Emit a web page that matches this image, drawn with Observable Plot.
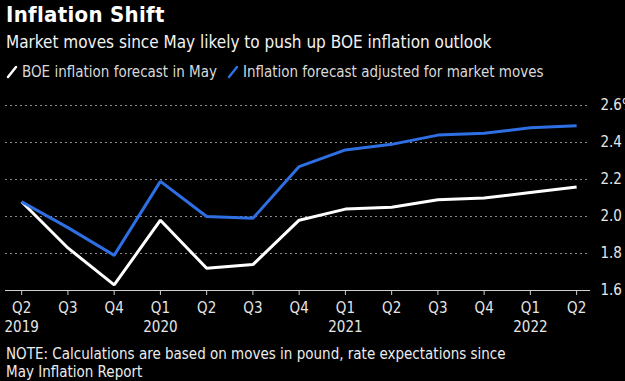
<!DOCTYPE html>
<html>
<head>
<meta charset="utf-8">
<script src="https://cdn.jsdelivr.net/npm/d3@7"></script>
<script src="https://cdn.jsdelivr.net/npm/@observablehq/plot@0.6"></script>
<style>
  html, body { margin: 0; padding: 0; background: #000; }
  body { width: 625px; height: 381px; overflow: hidden; font-family: "DejaVu Sans", sans-serif; font-stretch: condensed; color: #fff; position: relative; }
  #title { position: absolute; left: 6px; top: 2px; font-size: 22px; font-weight: bold; font-stretch: condensed; letter-spacing: 0.3px; }
  #subtitle { position: absolute; left: 6px; top: 32px; font-size: 17px; color: #f2f2f2; }
  #legend { position: absolute; left: 6px; top: 63px; font-size: 15px; color: #d9d9d9; display: flex; align-items: center; }
  #legend span.item { display: inline-flex; align-items: center; margin-right: 10px; }
  #legend svg { margin-right: 4px; }
  #chart { position: absolute; left: 0; top: 90px; }
  #note { position: absolute; left: 6px; top: 345px; font-size: 15px; color: #ececec; line-height: 18px; }
</style>
</head>
<body>
<div id="title">Inflation Shift</div>
<div id="subtitle">Market moves since May likely to push up BOE inflation outlook</div>
<div id="legend"></div>
<div id="chart"></div>
<div id="note">NOTE: Calculations are based on moves in pound, rate expectations since<br>May Inflation Report</div>
<script>
const quarters = ["Q2","Q3","Q4","Q1","Q2","Q3","Q4","Q1","Q2","Q3","Q4","Q1","Q2"];
const years    = ["2019","","","2020","","","","2021","","","","2022",""];
const mayForecast      = [2.08, 1.83, 1.63, 1.98, 1.72, 1.74, 1.98, 2.04, 2.05, 2.09, 2.10, 2.13, 2.16];
const adjustedForecast = [2.08, 1.94, 1.79, 2.19, 2.00, 1.99, 2.27, 2.36, 2.39, 2.44, 2.45, 2.48, 2.49];
const seriesNames  = ["BOE inflation forecast in May", "Inflation forecast adjusted for market moves"];
const seriesColors = ["#ffffff", "#2f6fe4"];
const yTicks = [1.6, 1.8, 2.0, 2.2, 2.4, 2.6];

const rows = [];
quarters.forEach((q, i) => {
  rows.push({i, value: mayForecast[i], series: seriesNames[0]});
  rows.push({i, value: adjustedForecast[i], series: seriesNames[1]});
});

// legend
const legend = document.getElementById("legend");
seriesNames.forEach((name, k) => {
  const item = document.createElement("span");
  item.className = "item";
  item.innerHTML = `<svg width="12" height="14"><line x1="2" y1="12" x2="10" y2="2" stroke="${seriesColors[k]}" stroke-width="2.5" stroke-linecap="round"/></svg>${name}`;
  legend.appendChild(item);
});

const idx = d3.range(quarters.length);
const plot = Plot.plot({
  width: 625,
  height: 250,
  marginTop: 15,
  marginBottom: 50,
  marginLeft: 5,
  marginRight: 35,
  style: { background: "transparent", color: "#e6e6e6", fontFamily: "DejaVu Sans, sans-serif", fontSize: "15px", fontStretch: "condensed", overflow: "visible" },
  x: { type: "linear", domain: [-0.35, 12.3] },
  y: { domain: [1.6, 2.6] },
  color: { domain: seriesNames, range: seriesColors },
  marks: [
    Plot.gridY(yTicks.filter(t => t > 1.6), { stroke: "#8a8a8a", strokeOpacity: 1, strokeDasharray: "2,3" }),
    Plot.ruleY([1.6], { stroke: "#d0d0d0", strokeWidth: 1 }),
    Plot.axisY({ anchor: "right", ticks: yTicks, tickSize: 0, tickPadding: 10, textAnchor: "start",
      tickFormat: d => d === 2.6 ? "2.6%" : d.toFixed(1), fill: "#e6e6e6", fontSize: 15, label: null }),
    Plot.axisX({ ticks: idx, tickSize: 5, tickPadding: 7, tickFormat: i => quarters[i], stroke: "#d0d0d0", fill: "#e6e6e6", fontSize: 15, label: null }),
    Plot.axisX({ ticks: idx, tickSize: 0, tickPadding: 31, tickFormat: i => years[i], fill: "#e6e6e6", fontSize: 15, label: null }),
    Plot.line(rows, { x: "i", y: "value", z: "series", stroke: "series", strokeWidth: 3, strokeLinejoin: "miter", strokeLinecap: "butt" })
  ]
});
document.getElementById("chart").appendChild(plot);
</script>
</body>
</html>
